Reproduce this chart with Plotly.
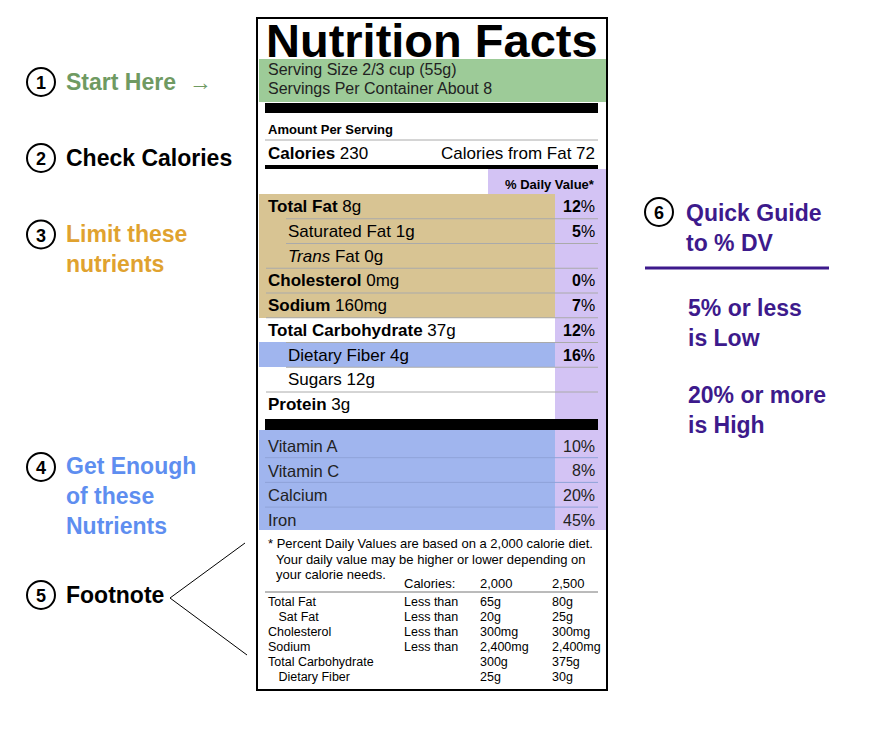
import plotly.graph_objects as go

nutrients = ["<b>Total Fat</b> 8g", "Saturated Fat 1g", "<i>Trans</i> Fat 0g", "<b>Cholesterol</b> 0mg",
             "<b>Sodium</b> 160mg", "<b>Total Carbohydrate</b> 37g", "Dietary Fiber 4g", "Sugars 12g", "<b>Protein</b> 3g"]
nutrient_indent = [0, 1, 1, 0, 0, 0, 1, 1, 0]
nutrient_dv = ["<b>12</b>%", "<b>5</b>%", "", "<b>0</b>%", "<b>7</b>%", "<b>12</b>%", "<b>16</b>%", "", ""]
vitamins = ["Vitamin A", "Vitamin C", "Calcium", "Iron"]
vitamin_dv = ["10%", "8%", "20%", "45%"]
fn_names = ["Total Fat", "   Sat Fat", "Cholesterol", "Sodium", "Total Carbohydrate", "   Dietary Fiber"]
fn_less = ["Less than", "Less than", "Less than", "Less than", "", ""]
fn_2000 = ["65g", "20g", "300mg", "2,400mg", "300g", "25g"]
fn_2500 = ["80g", "25g", "300mg", "2,400mg", "375g", "30g"]
guides = [("1", "Start Here  →", "#6f9a62", 82), ("2", "Check Calories", "#000000", 158),
          ("3", "Limit these<br>nutrients", "#e0a22f", 249), ("4", "Get Enough<br>of these<br>Nutrients", "#5e8ef0", 496),
          ("5", "Footnote", "#000000", 595)]

F = "Liberation Sans, Arial, sans-serif"
shapes, ann = [], []

def rect(x0, y0, x1, y1, color, line=None):
    shapes.append(dict(type="rect", x0=x0, y0=y0, x1=x1, y1=y1, fillcolor=color,
                       line=dict(width=0) if line is None else line, layer="below"))

def hline(y, x0=265, x1=598, w=1, c="#aaaaaa"):
    shapes.append(dict(type="line", x0=x0, x1=x1, y0=y, y1=y, line=dict(color=c, width=w)))

def text(x, y, t, size=15, color="black", anchor="left", family=F):
    ann.append(dict(x=x, y=y, text=t, showarrow=False, xanchor=anchor, yanchor="middle",
                    font=dict(size=size, color=color, family=family), align="left"))

rect(257, 18, 607, 690, "white", line=dict(color="black", width=2))
rect(259, 59, 606, 102, "#9dcb98")
rect(488, 169, 606, 194, "#d3c3f4")
rect(555, 194, 606, 530, "#d3c3f4")
rect(259, 194, 555, 318, "#d8c493")
rect(259, 342, 555, 367, "#a0b5ee")
rect(259, 430, 555, 530, "#a0b5ee")
rect(265, 103, 598, 113, "black")
rect(265, 419, 598, 430, "black")
rect(265, 165, 598, 169, "black")

text(432, 40, "<b>Nutrition Facts</b>", size=47, anchor="center")
text(266, 69, "Serving Size 2/3 cup (55g)", 16, "#222")
text(266, 88, "Servings Per Container About 8", 16, "#222")
text(266, 129, "<b>Amount Per Serving</b>", 13)
hline(140)
text(266, 153, "<b>Calories</b> 230", 17)
text(597, 153, "Calories from Fat 72", 17, anchor="right")
text(597, 184, "<b>% Daily Value*</b>", 13, anchor="right")

row_h = 24.75
for i, (n, ind, dv) in enumerate(zip(nutrients, nutrient_indent, nutrient_dv)):
    y = 206.5 + i * row_h
    text(266 + 20 * ind, y, n, 17)
    if dv:
        text(597, y, dv, 16, anchor="right")
    if i > 0:
        hline(194 + i * row_h, x0=266 + 20 * ind)
for i, (v, dv) in enumerate(zip(vitamins, vitamin_dv)):
    y = 446 + i * 24.7
    text(266, y, v, 16.5, "#222")
    text(597, y, dv, 16, "#222", anchor="right")
    if i > 0:
        hline(433 + i * 24.7, c="#8fa3d8")

text(266, 543, "* Percent Daily Values are based on a 2,000 calorie diet.", 13)
text(274, 559, "Your daily value may be higher or lower depending on", 13)
text(274, 574, "your calorie needs.", 13)
text(402, 583, "Calories:", 13)
text(478, 583, "2,000", 13)
text(550, 583, "2,500", 13)
hline(592, c="#777")
for i in range(len(fn_names)):
    y = 602 + i * 15
    text(266, y, fn_names[i].replace(" ", "&nbsp;"), 12.5)
    text(402, y, fn_less[i], 12.5)
    text(478, y, fn_2000[i], 12.5)
    text(550, y, fn_2500[i], 12.5)

for num, label, col, y in guides:
    cy = y if "<br>" not in label else y - (label.count("<br>")) * 14.5
    shapes.append(dict(type="circle", x0=27, x1=55, y0=cy - 14, y1=cy + 14, line=dict(color="black", width=2)))
    text(41, cy + 1, f"<b>{num}</b>", 18, anchor="center")
    text(64, y, f"<b>{label}</b>", 23, col)
shapes.append(dict(type="line", x0=170, y0=598, x1=245, y1=543, line=dict(color="black", width=1)))
shapes.append(dict(type="line", x0=170, y0=598, x1=247, y1=655, line=dict(color="black", width=1)))

shapes.append(dict(type="circle", x0=645, x1=673, y0=198, y1=226, line=dict(color="black", width=2)))
text(659, 213, "<b>6</b>", 18, anchor="center")
text(684, 228, "<b>Quick Guide<br>to % DV</b>", 23, "#3d1a8c")
shapes.append(dict(type="line", x0=645, x1=829, y0=268, y1=268, line=dict(color="#3d1a8c", width=3)))
text(686, 323, "<b>5% or less<br>is Low</b>", 23, "#3d1a8c")
text(686, 410, "<b>20% or more<br>is High</b>", 23, "#3d1a8c")

fig = go.Figure()
fig.update_layout(width=870, height=731, margin=dict(l=0, r=0, t=0, b=0),
                  paper_bgcolor="white", plot_bgcolor="white",
                  xaxis=dict(range=[8, 878], visible=False, fixedrange=True),
                  yaxis=dict(range=[739, 8], visible=False, fixedrange=True),
                  shapes=shapes, annotations=ann, showlegend=False)
fig.write_html("out.html")
